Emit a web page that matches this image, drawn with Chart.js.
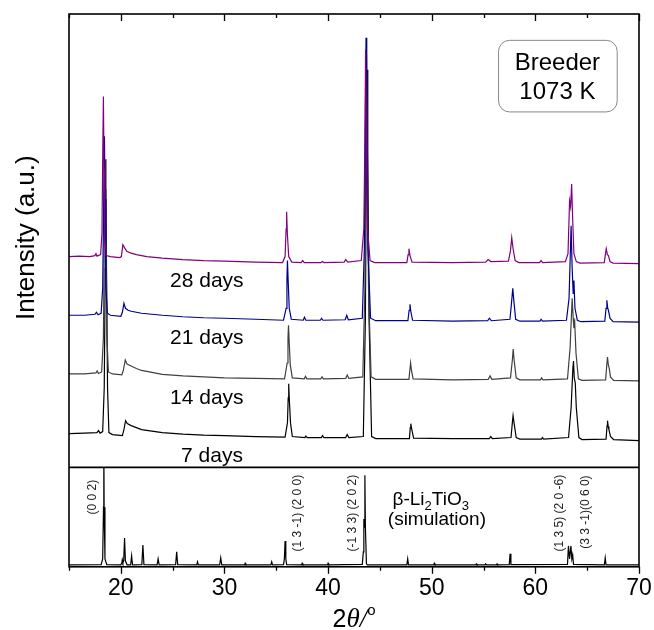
<!DOCTYPE html>
<html>
<head>
<meta charset="utf-8">
<script src="https://cdn.jsdelivr.net/npm/chart.js@4.4.1/dist/chart.umd.min.js"></script>
<style>
html,body{margin:0;padding:0;background:#fff;}
#c{display:block;}
</style>
</head>
<body>
<canvas id="c" width="654" height="630"></canvas>
<script>
// ---- data (2θ in degrees, offset intensity in arbitrary units) ----
const days28 = [[15,212],[16,212.5],[17,212],[17.5,213],[17.6,215],[17.7,212.5],[18.05,214],[18.18,235],[18.27,330],[18.32,373],[18.38,300],[18.45,230],[18.6,213],[19,212],[19.9,211],[20.05,212],[20.2,224],[20.35,221],[20.6,217],[21,215.5],[21.5,214],[22.5,212],[24,210.5],[26,209],[28,208],[30,207.5],[33,206.5],[35.6,206],[35.85,212],[35.95,240],[36.0,257],[36.07,235],[36.2,212],[36.5,206.5],[37.4,206],[37.55,208],[37.7,206],[39.3,206],[39.45,207],[39.6,206],[41.55,206.5],[41.7,209],[41.9,206.5],[43.2,208],[43.45,240],[43.55,330],[43.62,420],[43.7,330],[43.8,240],[44.05,208],[44.5,206],[47.6,206],[47.72,214],[47.8,220],[47.9,213],[48.1,206.5],[52,206],[55.2,206.5],[55.45,209],[55.7,207],[57.4,207.5],[57.6,218],[57.72,231],[57.85,220],[58.05,208],[58.4,206],[60.4,206],[60.55,208],[60.7,206],[62.9,207],[63.15,215],[63.3,268],[63.4,262],[63.5,285],[63.6,250],[63.72,215],[63.95,207],[64.3,205.5],[66.65,206],[66.78,216],[66.84,220],[66.95,214],[67.05,213],[67.2,207],[67.5,205.5],[70,205]];
const days21 = [[15,153],[16.5,153],[17.5,154],[17.65,156],[17.8,153.5],[18.1,155],[18.25,180],[18.35,270],[18.42,333],[18.48,270],[18.56,180],[18.7,155],[19,153],[20,152],[20.15,156],[20.3,165],[20.45,160],[20.7,158],[21,157],[21.5,156],[22,155],[24,153],[26,151.5],[28,150.5],[30,150],[33,149],[35.7,148],[35.95,160],[36.03,190],[36.08,208],[36.14,190],[36.25,160],[36.45,149],[37.6,148],[37.72,151],[37.85,148],[39.25,148],[39.37,150],[39.5,148],[41.65,148.5],[41.8,153],[41.95,148.5],[43.3,150],[43.5,220],[43.6,350],[43.66,432],[43.73,350],[43.84,220],[44.1,150],[44.6,147.5],[47.7,147.5],[47.82,158],[47.9,164],[47.98,157],[48.15,148],[52,147],[55.4,147.5],[55.56,150],[55.75,147.5],[57.55,149],[57.72,168],[57.82,180],[57.92,168],[58.1,149],[58.5,147],[60.45,147],[60.55,149],[60.7,147],[63.0,148],[63.25,170],[63.45,243],[63.55,200],[63.65,175],[63.72,188],[63.82,160],[64.05,148],[64.4,146.5],[66.7,147],[66.82,160],[66.9,168],[66.98,160],[67.05,158],[67.2,150],[67.5,146.5],[70,146]];
const days14 = [[15,94],[16.5,94],[17.6,95],[17.72,97],[17.85,94.5],[18.15,96],[18.32,130],[18.42,240],[18.5,310],[18.57,240],[18.66,130],[18.8,96],[19.2,94],[20.1,93],[20.25,98],[20.43,108],[20.6,104],[21,102],[21.5,99.5],[22,97.5],[24,93.5],[26,92],[28,91],[30,90],[33,89.5],[35.8,89],[36.05,105],[36.13,130],[36.18,143],[36.24,128],[36.35,103],[36.55,90],[37.7,89],[37.82,91.5],[37.95,89],[39.3,89],[39.42,91],[39.55,89],[41.7,89.5],[41.85,93],[42.0,89.5],[43.35,91],[43.55,180],[43.65,330],[43.71,415],[43.78,330],[43.9,180],[44.15,91],[44.6,88.5],[47.8,88.5],[47.9,99],[47.96,105],[48.04,98],[48.2,89],[52,88],[55.45,88.5],[55.63,92],[55.8,88.5],[57.6,90],[57.78,108],[57.86,119],[57.95,108],[58.15,90],[58.5,88],[60.5,88],[60.6,90],[60.75,88],[63.1,89],[63.35,120],[63.55,170],[63.65,150],[63.72,140],[63.8,145],[63.92,115],[64.15,89],[64.5,87.5],[66.78,88],[66.9,104],[66.96,111],[67.04,103],[67.12,100],[67.25,91],[67.55,87.5],[70,87]];
const days7 = [[15,34],[16.5,34.5],[17.7,35],[17.85,37],[18.0,34.5],[18.25,36],[18.4,80],[18.5,200],[18.55,280],[18.62,200],[18.72,80],[18.85,35],[19.2,33],[20.15,32],[20.3,38],[20.46,47],[20.62,44],[21,42],[21.5,40],[22,38],[24,35],[26,33.5],[28,32.5],[30,32],[33,31],[35.85,30.5],[36.08,45],[36.15,70],[36.2,84],[36.26,68],[36.38,44],[36.55,31],[37.75,30],[37.85,31.5],[37.98,30],[39.35,30],[39.46,32],[39.6,30],[41.7,30],[41.84,33],[42.0,30],[43.4,31],[43.6,150],[43.7,320],[43.76,400],[43.83,320],[43.95,150],[44.2,31],[44.6,29],[47.85,29],[47.93,40],[47.98,44],[48.06,39],[48.25,29.5],[52,29],[55.55,29],[55.7,31],[55.85,29],[57.65,30],[57.78,45],[57.85,52],[57.94,45],[58.15,30],[58.5,28.5],[60.6,28.5],[60.68,30],[60.8,28.5],[63.2,30],[63.45,60],[63.62,100],[63.68,107],[63.75,90],[63.85,85],[63.95,60],[64.2,30],[64.5,28],[66.82,28.5],[66.92,42],[66.96,47],[67.03,41],[67.1,38],[67.25,31],[67.55,28],[70,27]];
const simulation = [[15,2],[18.1,2.2],[18.25,8],[18.33,60],[18.36,130],[18.39,60],[18.47,8],[18.65,2.2],[20.0,2],[20.1,4],[20.14,7],[20.2,4],[20.28,6],[20.36,29],[20.44,6],[20.6,2],[20.95,2],[21.04,11],[21.13,2],[22.03,2.2],[22.13,22],[22.23,2.2],[23.5,2],[23.6,8],[23.7,2],[25.29,2.2],[25.39,15],[25.49,2.2],[27.32,2],[27.4,5],[27.48,2],[29.54,2],[29.64,9],[29.74,2],[31.94,2],[32.0,3.5],[32.06,2],[34.48,2],[34.56,5],[34.64,2],[35.7,2.2],[35.78,8],[35.85,26],[35.92,8],[36.0,2.2],[37.44,2],[37.5,3.5],[37.56,2],[39.94,2],[40.0,3.5],[40.06,2],[43.3,2.5],[43.4,15],[43.45,48],[43.5,40],[43.55,92],[43.6,40],[43.7,3],[43.8,2],[47.6,2],[47.68,8],[47.76,2],[50.19,2],[50.25,3.5],[50.31,2],[54.24,2],[54.3,3],[54.36,2],[55.14,2],[55.2,3],[55.26,2],[56.24,2],[56.3,3],[56.36,2],[57.48,2.2],[57.56,13],[57.64,2.2],[63.1,2.5],[63.19,21],[63.3,8],[63.43,21],[63.52,8],[63.6,12],[63.68,2.5],[66.66,2],[66.74,9],[66.82,2],[70,2]];

const seriesNames = ['28 days','21 days','14 days','7 days'];
const xTickValues = [20,30,40,50,60,70];
const hklLabels = ['(0 0 2)','(1 3 -1) (2 0 0)','(-1 3 3) (2 0 2)','(1 3 5) (2 0 -6)','(3 3 -1)(0 6 0)'];

// ---- layout of annotations (data coordinates) ----
const hklPos = [[17.3,70],[37.1,54],[42.4,54],[62.3,54],[64.85,55]];
const dayPos = [[28.3,187],[28.3,130],[28.3,70],[28.8,11]];
const colors = ['#800080','#00008b','#404040','#000000'];

const ctxEl = document.getElementById('c');

const decor = {
  id: 'decor',
  afterDraw(chart) {
    const ctx = chart.ctx, a = chart.chartArea;
    const x = chart.scales.x, yT = chart.scales.yTop, yB = chart.scales.yBot;
    ctx.save();
    ctx.strokeStyle = '#000';
    ctx.lineWidth = 1.6;
    ctx.strokeRect(a.left, a.top, a.right - a.left, a.bottom - a.top);
    ctx.beginPath();
    ctx.moveTo(a.left, yT.bottom); ctx.lineTo(a.right, yT.bottom);
    ctx.stroke();
    // x ticks: bottom outside, top inside
    ctx.lineWidth = 1.3;
    x.ticks.forEach(t => {
      const px = Math.round(x.getPixelForValue(t.value)) + 0.5;
      const len = (t.value % 10 === 0) ? 7 : 4;
      ctx.beginPath();
      ctx.moveTo(px, a.bottom); ctx.lineTo(px, a.bottom + len);
      ctx.moveTo(px, a.top); ctx.lineTo(px, a.top + len);
      ctx.stroke();
    });
    // day labels
    ctx.fillStyle = '#000';
    ctx.font = '21px "Liberation Sans", Arial, sans-serif';
    ctx.textAlign = 'center';
    ctx.textBaseline = 'middle';
    seriesNames.forEach((n, i) => {
      ctx.fillText(n, x.getPixelForValue(dayPos[i][0]), yT.getPixelForValue(dayPos[i][1]));
    });
    // Breeder box
    const bx0 = x.getPixelForValue(56.4), bx1 = x.getPixelForValue(67.85);
    const by0 = yT.getPixelForValue(430), by1 = yT.getPixelForValue(358);
    ctx.strokeStyle = '#888';
    ctx.lineWidth = 1;
    ctx.beginPath();
    ctx.roundRect(bx0 + 0.5, by0 + 0.5, bx1 - bx0, by1 - by0, 11);
    ctx.stroke();
    ctx.font = '24px "Liberation Sans", Arial, sans-serif';
    ctx.textBaseline = 'alphabetic';
    const bc = (bx0 + bx1) / 2;
    ctx.fillText('Breeder', bc, yT.getPixelForValue(400));
    ctx.fillText('1073 K', bc, yT.getPixelForValue(371));
    // hkl labels
    ctx.fillStyle = '#222';
    ctx.font = '12px "Liberation Sans", Arial, sans-serif';
    ctx.textBaseline = 'middle';
    hklLabels.forEach((s, i) => {
      ctx.save();
      ctx.translate(x.getPixelForValue(hklPos[i][0]), yB.getPixelForValue(hklPos[i][1]));
      ctx.rotate(-Math.PI / 2);
      ctx.fillText(s, 0, 0);
      ctx.restore();
    });
    // beta-Li2TiO3 (simulation)
    ctx.fillStyle = '#000';
    ctx.textBaseline = 'alphabetic';
    const big = '19px "Liberation Sans", Arial, sans-serif';
    const sub = '13px "Liberation Sans", Arial, sans-serif';
    const parts = [['β-Li', big, 0], ['2', sub, 5], ['TiO', big, 0], ['3', sub, 5]];
    let w = 0;
    parts.forEach(p => { ctx.font = p[1]; w += ctx.measureText(p[0]).width; });
    let cx = x.getPixelForValue(49.9) - w / 2;
    const by = yB.getPixelForValue(62);
    ctx.textAlign = 'left';
    parts.forEach(p => { ctx.font = p[1]; ctx.fillText(p[0], cx, by + p[2]); cx += ctx.measureText(p[0]).width; });
    ctx.font = big;
    ctx.textAlign = 'center';
    ctx.fillText('(simulation)', x.getPixelForValue(50.5), yB.getPixelForValue(42));
    // y axis title
    ctx.save();
    ctx.font = '26px "Liberation Sans", Arial, sans-serif';
    ctx.textBaseline = 'middle';
    ctx.translate(a.left - 42, (yT.top + yT.bottom) / 2 - 3);
    ctx.rotate(-Math.PI / 2);
    ctx.fillText('Intensity (a.u.)', 0, 0);
    ctx.restore();
    // x axis title: 2θ/°
    const tparts = [['2', '25px "Liberation Sans", Arial, sans-serif', 0], ['θ/', 'italic 27px "Liberation Serif", "Times New Roman", serif', 0], ['o', '15px "Liberation Sans", Arial, sans-serif', -12]];
    let tw = 0;
    tparts.forEach(p => { ctx.font = p[1]; tw += ctx.measureText(p[0]).width; });
    let tx = (a.left + a.right) / 2 - tw / 2;
    ctx.textAlign = 'left';
    tparts.forEach(p => { ctx.font = p[1]; ctx.fillText(p[0], tx, 627 + p[2]); tx += ctx.measureText(p[0]).width; });
    ctx.restore();
  }
};

const mk = (label, data, color, axis) => ({
  label, data, borderColor: color, borderWidth: 1.2, pointRadius: 0, tension: 0, fill: false, yAxisID: axis
});

new Chart(ctxEl, {
  type: 'line',
  data: {
    datasets: [
      mk(seriesNames[0], days28, colors[0], 'yTop'),
      mk(seriesNames[1], days21, colors[1], 'yTop'),
      mk(seriesNames[2], days14, colors[2], 'yTop'),
      mk(seriesNames[3], days7, colors[3], 'yTop'),
      mk('β-Li2TiO3 (simulation)', simulation, '#000000', 'yBot')
    ]
  },
  options: {
    responsive: false,
    animation: false,
    devicePixelRatio: 1,
    layout: { padding: { left: 69, right: 15, top: 14, bottom: 25.6 } },
    plugins: { legend: { display: false }, tooltip: { enabled: false } },
    scales: {
      x: {
        type: 'linear', min: 15, max: 70,
        border: { display: false },
        grid: { display: true, drawOnChartArea: false, drawTicks: true, tickLength: 6, color: 'rgba(0,0,0,0)' },
        ticks: {
          stepSize: 5, padding: 2, color: '#000', maxRotation: 0, autoSkip: false,
          font: { family: '"Liberation Sans", Arial, sans-serif', size: 23 },
          callback: (v) => xTickValues.includes(v) ? String(v) : ''
        }
      },
      yBot: { type: 'linear', display: false, min: 0, max: 100, stack: 'panels', stackWeight: 1, position: 'left' },
      yTop: { type: 'linear', display: false, min: 0, max: 456, stack: 'panels', stackWeight: 4.56, position: 'left' }
    }
  },
  plugins: [decor]
});
</script>
</body>
</html>
